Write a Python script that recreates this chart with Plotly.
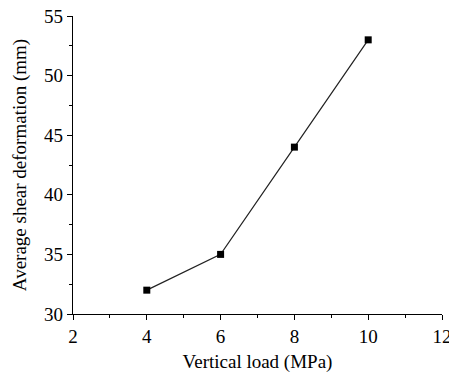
import plotly.graph_objects as go

vertical_load = [4, 6, 8, 10]
shear_deformation = [32, 35, 44, 53]
x_ticks = [2, 4, 6, 8, 10, 12]
y_ticks = [30, 35, 40, 45, 50, 55]

font_family = "Liberation Serif, Times New Roman, serif"
label_font = dict(family=font_family, size=19, color="black")

fig = go.Figure(
    go.Scatter(
        x=vertical_load,
        y=shear_deformation,
        mode="lines+markers",
        line=dict(color="#222222", width=1.2),
        marker=dict(symbol="square", size=7, color="black"),
        showlegend=False,
    )
)

axis_common = dict(
    showline=True,
    linecolor="black",
    linewidth=1.2,
    ticks="outside",
    ticklen=5,
    tickwidth=1.2,
    tickcolor="black",
    showgrid=False,
    zeroline=False,
    mirror=False,
    tickfont=label_font,
    ticklabeloverflow="allow",
    automargin=False,
)

fig.update_xaxes(
    range=[2, 12],
    tickvals=x_ticks,
    title=dict(text="Vertical load (MPa)", font=label_font, standoff=17),
    minor=dict(ticks="outside", ticklen=3, dtick=1, tick0=2, tickcolor="black", tickwidth=1.2),
    **axis_common,
)
fig.update_yaxes(
    range=[30, 55],
    tickvals=y_ticks,
    title=dict(text="Average shear deformation (mm)", font=label_font, standoff=12),
    minor=dict(ticks="outside", ticklen=3, dtick=2.5, tick0=30, tickcolor="black", tickwidth=1.2),
    **axis_common,
)

fig.update_layout(
    width=449,
    height=373,
    margin=dict(l=73, r=7, t=16, b=59),
    paper_bgcolor="white",
    plot_bgcolor="white",
    font=dict(family=font_family, color="black"),
)

fig.write_html("out.html")
